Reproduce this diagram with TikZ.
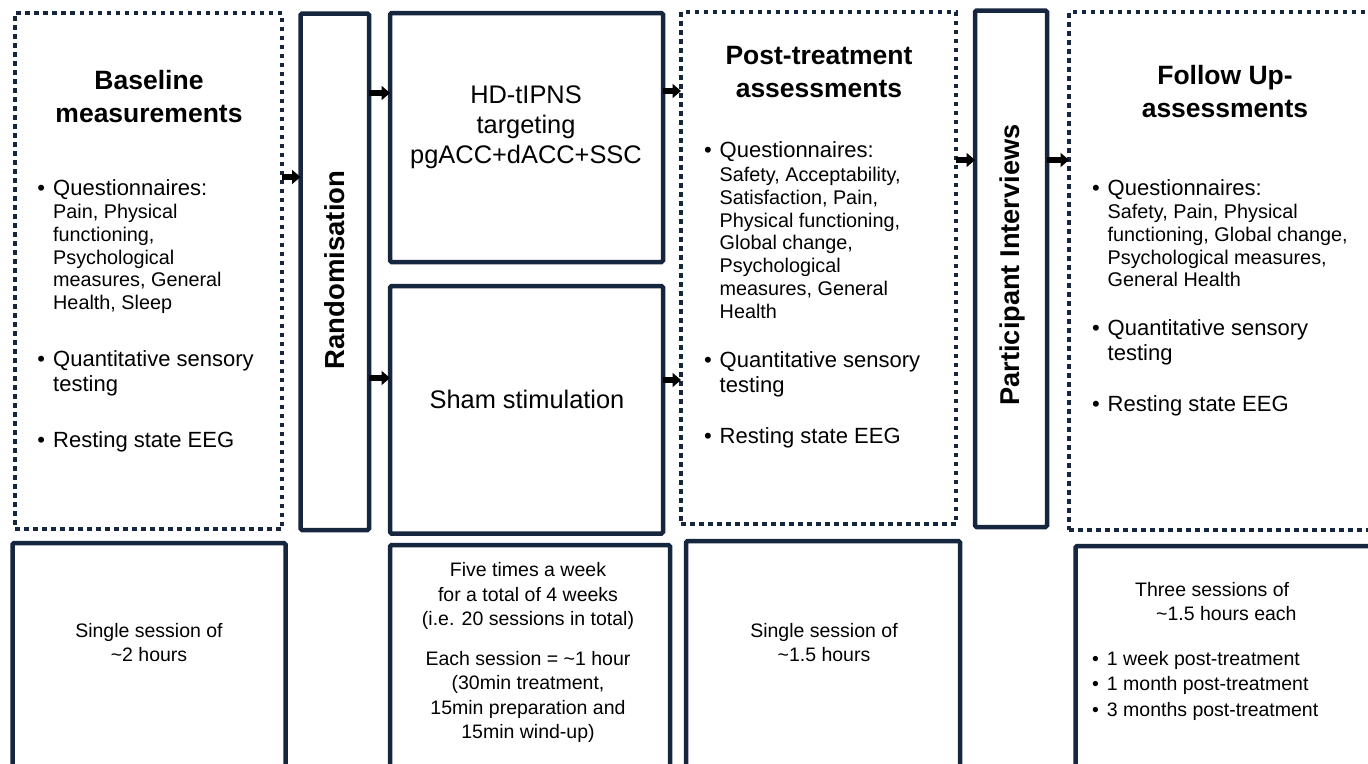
\documentclass[tikz,border=0pt]{standalone}
\usepackage{fontspec}
\setmainfont{Liberation Sans}
\usetikzlibrary{arrows.meta}
\definecolor{boxblue}{HTML}{17263F}
\def\lines#1{\begin{tabular}[t]{@{}l@{}}#1\end{tabular}}
\def\clines#1{\begin{tabular}[t]{@{}c@{}}#1\end{tabular}}
\def\bul{\llap{\textbullet\hspace{8pt}}}

\tikzset{
	solidbox/.style={draw=boxblue, line width=4.5pt, rounded corners=1.5pt, inner sep=0pt, outer sep=0pt, anchor=north west},
	dotbox/.style={draw=boxblue, line width=4.5pt, dash pattern=on 4.5pt off 4.5pt, inner sep=0pt, outer sep=0pt, anchor=north west},
	arr/.style={-{Triangle[length=8.5pt,width=14pt]}, line width=5.5pt, black},
	head/.style={font=\fontsize{26.5}{33}\selectfont\bfseries, inner sep=0pt},
	item/.style={font=\fontsize{22}{25.5}\selectfont, inner sep=0pt, anchor=base west},
	sub/.style={font=\fontsize{19.8}{22.8}\selectfont, inner sep=0pt, anchor=base west},
	arm/.style={font=\fontsize{25.4}{30}\selectfont, inner sep=0pt, anchor=base},
	note/.style={font=\fontsize{19.5}{24.4}\selectfont, inner sep=0pt, anchor=base}
}

\begin{document}
\begin{tikzpicture}[x=1pt,y=-1pt]
		%%%%% START %%%%%
		\useasboundingbox (0,0) rectangle (1368,763);
		\clip (0,0) rectangle (1368,763);
		
		% top row
		\node[dotbox, minimum width=267pt, minimum height=516pt] (base) at (15,13) {};
		\node[solidbox, minimum width=68.5pt, minimum height=516.5pt] (rand) at (300.5,13.5) {};
		\node[solidbox, minimum width=273pt, minimum height=249pt] (hd) at (390,13) {};
		\node[solidbox, minimum width=273pt, minimum height=247.5pt] (sham) at (390,286) {};
		\node[dotbox, minimum width=275pt, minimum height=512pt] (post) at (681,12) {};
		\node[solidbox, minimum width=72pt, minimum height=516.5pt] (inter) at (975,10.5) {};
		\node[dotbox, minimum width=330pt, minimum height=518pt] (fup) at (1069,12) {};
		
		% bottom row
		\node[solidbox, minimum width=273pt, minimum height=260pt] (bbase) at (12.5,543) {};
		\node[solidbox, minimum width=280pt, minimum height=260pt] (btreat) at (390,545) {};
		\node[solidbox, minimum width=274pt, minimum height=260pt] (bpost) at (686,541) {};
		\node[solidbox, minimum width=330pt, minimum height=260pt] (bfup) at (1075.5,546) {};
		
		\draw[arr] (base.east |- 0,177) -- (rand.west |- 0,177);
		\draw[arr] (rand.east |- 0,93) -- (hd.west |- 0,93);
		\draw[arr] (rand.east |- 0,378) -- (sham.west |- 0,378);
		\draw[arr] (hd.east |- 0,91) -- (post.west |- 0,91);
		\draw[arr] (sham.east |- 0,380) -- (post.west |- 0,380);
		\draw[arr] (post.east |- 0,160) -- (inter.west |- 0,160);
		\draw[arr] (inter.east |- 0,160) -- (fup.west |- 0,160);
		
		% baseline
		\node[head, anchor=base] (basetitle) at (149,89.5) {\clines{Baseline\\measurements}};
		\node[item] (baseq) at (53,195) {\bul Questionnaires:};
		\node[sub] (baseqlist) at (53,218.5) {\lines{Pain, Physical\\functioning,\\Psychological\\measures, General\\Health, Sleep}};
		\node[item] (baseqst) at (53,366) {\lines{\bul Quantitative sensory\\testing}};
		\node[item] (baseeeg) at (53,447) {\bul Resting state EEG};
		
		\node[head, rotate=90, font=\fontsize{27.5}{33}\selectfont\bfseries] (randtxt) at (335,270) {Randomisation};
		
		% arms
		\node[arm] (hdtxt) at (526,103.3) {\clines{HD-tIPNS\\targeting\\pgACC+dACC+SSC}};
		\node[arm] (shamtxt) at (527,408) {Sham stimulation};
		
		% post-treatment
		\node[head, anchor=base] (posttitle) at (819,64.5) {\clines{Post-treatment\\assessments}};
		\node[item] (postq) at (719.5,157) {\bul Questionnaires:};
		\node[sub] (postqlist) at (719.5,181.5) {\lines{Safety, Acceptability,\\Satisfaction, Pain,\\Physical functioning,\\Global change,\\Psychological\\measures, General\\Health}};
		\node[item] (postqst) at (719.5,367) {\lines{\bul Quantitative sensory\\testing}};
		\node[item] (posteeg) at (719.5,443) {\bul Resting state EEG};
		
		\node[head, rotate=90, font=\fontsize{27.2}{33}\selectfont\bfseries] (intertxt) at (1012,265) {Participant Interviews};
		
		% follow up
		\node[head, anchor=base] (fuptitle) at (1225,84.5) {\clines{Follow Up-\\assessments}};
		\node[item] (fupq) at (1107.5,195.5) {\bul Questionnaires:};
		\node[sub] (fupqlist) at (1107.5,218.5) {\lines{Safety, Pain, Physical\\functioning, Global change,\\Psychological measures,\\General Health}};
		\node[item] (fupqst) at (1107.5,335) {\lines{\bul Quantitative sensory\\testing}};
		\node[item] (fupeeg) at (1107.5,411) {\bul Resting state EEG};
		
		% durations
		\node[note] (bbasetxt) at (149,637.3) {\clines{Single session of\\\textasciitilde 2 hours}};
		\node[note] (btreattxt) at (528,576.7) {\clines{Five times a week\\for a total of 4 weeks\\(i.e. 20 sessions in total)\\[15.5pt]Each session = \textasciitilde 1 hour\\(30min treatment,\\15min preparation and\\15min wind-up)}};
		\node[note] (bposttxt) at (824,637) {\clines{Single session of\\\textasciitilde 1.5 hours}};
		\node[note, anchor=base west] (bfuptxt) at (1135,596) {\lines{Three sessions of\\\hspace*{21pt}\textasciitilde 1.5 hours each}};
		\node[note, anchor=base west, font=\fontsize{19.5}{25.5}\selectfont] (bfuplist) at (1106.7,665) {\lines{\bul 1 week post-treatment\\\bul 1 month post-treatment\\\bul 3 months post-treatment}};
		
		%%%%% END %%%%%
\end{tikzpicture}
\end{document}
